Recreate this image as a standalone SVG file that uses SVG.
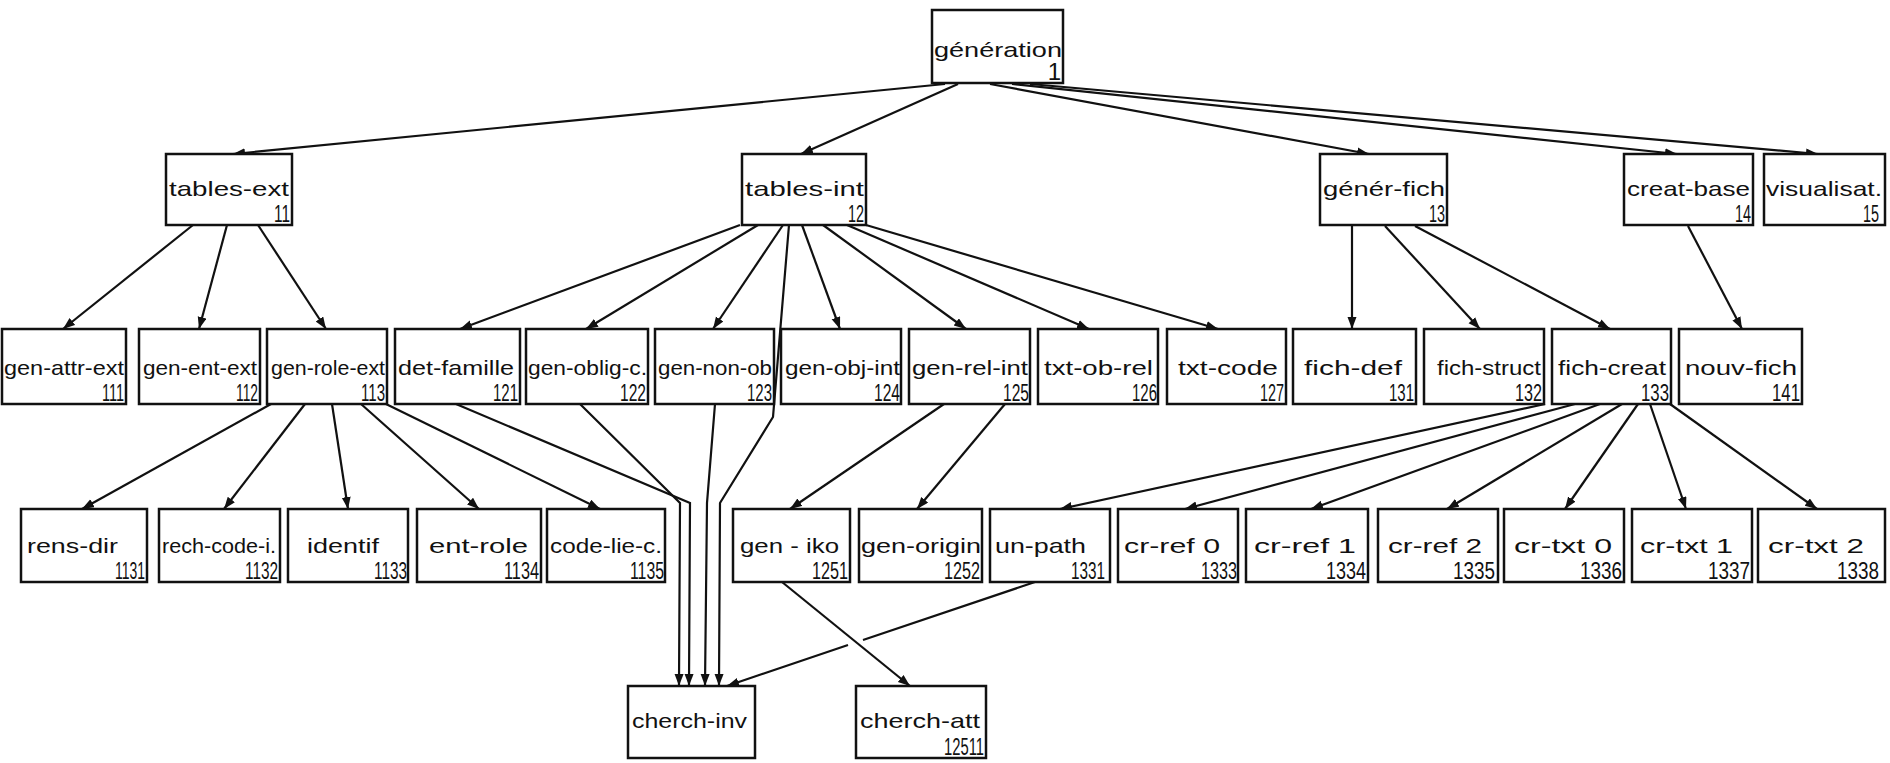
<svg xmlns="http://www.w3.org/2000/svg" width="1890" height="763" viewBox="0 0 1890 763">
<style>
.box{fill:#fff;stroke:#111;stroke-width:2.5}
.lbl{font-family:"Liberation Sans",Arial,sans-serif;font-size:21px;fill:#111}
.num{font-family:"Liberation Sans",Arial,sans-serif;font-size:24px;fill:#111;text-anchor:end}
.edge{fill:none;stroke:#111;stroke-width:2.2;marker-end:url(#ah)}
</style>
<defs>
<marker id="ah" markerUnits="userSpaceOnUse" markerWidth="13" markerHeight="10" refX="12" refY="4.5" orient="auto">
<path d="M0,0 L12,4.5 L0,9 z" fill="#111"/>
</marker>
</defs>
<rect width="1890" height="763" fill="#fff"/>
<g id="connectors">
<path class="edge" d="M945 84 L233 154"/>
<path class="edge" d="M958 84 L801 154"/>
<path class="edge" d="M990 84 L1369 154"/>
<path class="edge" d="M1012 84 L1677 154"/>
<path class="edge" d="M1030 84 L1818 154"/>
<path class="edge" d="M193 225 L63 329"/>
<path class="edge" d="M227 225 L199 329"/>
<path class="edge" d="M258 225 L326 329"/>
<path class="edge" d="M740 225 L460 329"/>
<path class="edge" d="M758 225 L586 329"/>
<path class="edge" d="M783 225 L713 329"/>
<path class="edge" d="M789 225 L773 417 L720 503 L719 686"/>
<path class="edge" d="M802 225 L840 329"/>
<path class="edge" d="M823 225 L966 329"/>
<path class="edge" d="M847 225 L1089 329"/>
<path class="edge" d="M866 225 L1218 329"/>
<path class="edge" d="M1352 226 L1352 329"/>
<path class="edge" d="M1385 226 L1480 329"/>
<path class="edge" d="M1415 226 L1610 329"/>
<path class="edge" d="M1688 226 L1742 329"/>
<path class="edge" d="M271 404 L82 509"/>
<path class="edge" d="M305 404 L224 509"/>
<path class="edge" d="M332 404 L348 509"/>
<path class="edge" d="M361 404 L479 509"/>
<path class="edge" d="M386 404 L600 509"/>
<path class="edge" d="M456 404 L690 503 L689 686"/>
<path class="edge" d="M580 404 L680 503 L679 686"/>
<path class="edge" d="M715 404 L707 503 L705 686"/>
<path class="edge" d="M944 404 L790 509"/>
<path class="edge" d="M1005 404 L917 509"/>
<path class="edge" d="M1545 404 L1060 509"/>
<path class="edge" d="M1575 404 L1185 509"/>
<path class="edge" d="M1600 404 L1311 509"/>
<path class="edge" d="M1622 404 L1447 509"/>
<path class="edge" d="M1638 404 L1565 509"/>
<path class="edge" d="M1650 404 L1686 509"/>
<path class="edge" d="M1670 404 L1817 509"/>
<path class="edge" d="M782 582 L910 686"/>
<path class="edge" d="M1035 582 L863 640 M848 645 L727 686"/>
</g>
<g id="n1"><rect class="box" x="932" y="10" width="131" height="73"/><text class="lbl" x="934" y="57" textLength="128" lengthAdjust="spacingAndGlyphs">génération</text><text class="num" x="1061" y="80">1</text></g>
<g id="n11"><rect class="box" x="166" y="154" width="126" height="71"/><text class="lbl" x="169" y="196" textLength="120" lengthAdjust="spacingAndGlyphs">tables-ext</text><text class="num" x="290" y="222" textLength="16" lengthAdjust="spacingAndGlyphs">11</text></g>
<g id="n12"><rect class="box" x="742" y="154" width="124" height="71"/><text class="lbl" x="745" y="196" textLength="119" lengthAdjust="spacingAndGlyphs">tables-int</text><text class="num" x="864" y="222" textLength="16" lengthAdjust="spacingAndGlyphs">12</text></g>
<g id="n13"><rect class="box" x="1320" y="154" width="127" height="71"/><text class="lbl" x="1323" y="196" textLength="122" lengthAdjust="spacingAndGlyphs">génér-fich</text><text class="num" x="1445" y="222" textLength="16" lengthAdjust="spacingAndGlyphs">13</text></g>
<g id="n14"><rect class="box" x="1624" y="154" width="129" height="71"/><text class="lbl" x="1627" y="196" textLength="123" lengthAdjust="spacingAndGlyphs">creat-base</text><text class="num" x="1751" y="222" textLength="16" lengthAdjust="spacingAndGlyphs">14</text></g>
<g id="n15"><rect class="box" x="1764" y="154" width="121" height="71"/><text class="lbl" x="1766" y="196" textLength="116" lengthAdjust="spacingAndGlyphs">visualisat.</text><text class="num" x="1879" y="222" textLength="16" lengthAdjust="spacingAndGlyphs">15</text></g>
<g id="n111"><rect class="box" x="2" y="329" width="124" height="75"/><text class="lbl" x="4" y="375" textLength="120" lengthAdjust="spacingAndGlyphs">gen-attr-ext</text><text class="num" x="124" y="401" textLength="22" lengthAdjust="spacingAndGlyphs">111</text></g>
<g id="n112"><rect class="box" x="139" y="329" width="121" height="75"/><text class="lbl" x="143" y="375" textLength="114" lengthAdjust="spacingAndGlyphs">gen-ent-ext</text><text class="num" x="258" y="401" textLength="22" lengthAdjust="spacingAndGlyphs">112</text></g>
<g id="n113"><rect class="box" x="267" y="329" width="120" height="75"/><text class="lbl" x="271" y="375" textLength="114" lengthAdjust="spacingAndGlyphs">gen-role-ext</text><text class="num" x="385" y="401" textLength="24" lengthAdjust="spacingAndGlyphs">113</text></g>
<g id="n121"><rect class="box" x="395" y="329" width="125" height="75"/><text class="lbl" x="398" y="375" textLength="116" lengthAdjust="spacingAndGlyphs">det-famille</text><text class="num" x="518" y="401" textLength="25" lengthAdjust="spacingAndGlyphs">121</text></g>
<g id="n122"><rect class="box" x="526" y="329" width="122" height="75"/><text class="lbl" x="528" y="375" textLength="119" lengthAdjust="spacingAndGlyphs">gen-oblig-c.</text><text class="num" x="646" y="401" textLength="26" lengthAdjust="spacingAndGlyphs">122</text></g>
<g id="n123"><rect class="box" x="655" y="329" width="119" height="75"/><text class="lbl" x="658" y="375" textLength="114" lengthAdjust="spacingAndGlyphs">gen-non-ob</text><text class="num" x="772" y="401" textLength="25" lengthAdjust="spacingAndGlyphs">123</text></g>
<g id="n124"><rect class="box" x="781" y="329" width="120" height="75"/><text class="lbl" x="785" y="375" textLength="115" lengthAdjust="spacingAndGlyphs">gen-obj-int</text><text class="num" x="900" y="401" textLength="26" lengthAdjust="spacingAndGlyphs">124</text></g>
<g id="n125"><rect class="box" x="909" y="329" width="121" height="75"/><text class="lbl" x="912" y="375" textLength="116" lengthAdjust="spacingAndGlyphs">gen-rel-int</text><text class="num" x="1029" y="401" textLength="26" lengthAdjust="spacingAndGlyphs">125</text></g>
<g id="n126"><rect class="box" x="1038" y="329" width="120" height="75"/><text class="lbl" x="1044" y="375" textLength="109" lengthAdjust="spacingAndGlyphs">txt-ob-rel</text><text class="num" x="1157" y="401" textLength="25" lengthAdjust="spacingAndGlyphs">126</text></g>
<g id="n127"><rect class="box" x="1167" y="329" width="119" height="75"/><text class="lbl" x="1178" y="375" textLength="100" lengthAdjust="spacingAndGlyphs">txt-code</text><text class="num" x="1284" y="401" textLength="24" lengthAdjust="spacingAndGlyphs">127</text></g>
<g id="n131"><rect class="box" x="1293" y="329" width="123" height="75"/><text class="lbl" x="1304" y="375" textLength="98" lengthAdjust="spacingAndGlyphs">fich-def</text><text class="num" x="1414" y="401" textLength="25" lengthAdjust="spacingAndGlyphs">131</text></g>
<g id="n132"><rect class="box" x="1424" y="329" width="120" height="75"/><text class="lbl" x="1437" y="375" textLength="104" lengthAdjust="spacingAndGlyphs">fich-struct</text><text class="num" x="1542" y="401" textLength="27" lengthAdjust="spacingAndGlyphs">132</text></g>
<g id="n133"><rect class="box" x="1552" y="329" width="119" height="75"/><text class="lbl" x="1558" y="375" textLength="108" lengthAdjust="spacingAndGlyphs">fich-creat</text><text class="num" x="1669" y="401" textLength="28" lengthAdjust="spacingAndGlyphs">133</text></g>
<g id="n141"><rect class="box" x="1679" y="329" width="123" height="75"/><text class="lbl" x="1685" y="375" textLength="112" lengthAdjust="spacingAndGlyphs">nouv-fich</text><text class="num" x="1800" y="401" textLength="28" lengthAdjust="spacingAndGlyphs">141</text></g>
<g id="n1131"><rect class="box" x="21" y="509" width="126" height="73"/><text class="lbl" x="27" y="553" textLength="91" lengthAdjust="spacingAndGlyphs">rens-dir</text><text class="num" x="145" y="579" textLength="30" lengthAdjust="spacingAndGlyphs">1131</text></g>
<g id="n1132"><rect class="box" x="159" y="509" width="121" height="73"/><text class="lbl" x="162" y="553" textLength="114" lengthAdjust="spacingAndGlyphs">rech-code-i.</text><text class="num" x="278" y="579" textLength="33" lengthAdjust="spacingAndGlyphs">1132</text></g>
<g id="n1133"><rect class="box" x="288" y="509" width="120" height="73"/><text class="lbl" x="307" y="553" textLength="72" lengthAdjust="spacingAndGlyphs">identif</text><text class="num" x="407" y="579" textLength="33" lengthAdjust="spacingAndGlyphs">1133</text></g>
<g id="n1134"><rect class="box" x="417" y="509" width="124" height="73"/><text class="lbl" x="429" y="553" textLength="99" lengthAdjust="spacingAndGlyphs">ent-role</text><text class="num" x="539" y="579" textLength="35" lengthAdjust="spacingAndGlyphs">1134</text></g>
<g id="n1135"><rect class="box" x="547" y="509" width="118" height="73"/><text class="lbl" x="550" y="553" textLength="112" lengthAdjust="spacingAndGlyphs">code-lie-c.</text><text class="num" x="664" y="579" textLength="34" lengthAdjust="spacingAndGlyphs">1135</text></g>
<g id="n1251"><rect class="box" x="733" y="509" width="117" height="73"/><text class="lbl" x="740" y="553" textLength="99" lengthAdjust="spacingAndGlyphs">gen - iko</text><text class="num" x="848" y="579" textLength="36" lengthAdjust="spacingAndGlyphs">1251</text></g>
<g id="n1252"><rect class="box" x="859" y="509" width="123" height="73"/><text class="lbl" x="861" y="553" textLength="120" lengthAdjust="spacingAndGlyphs">gen-origin</text><text class="num" x="980" y="579" textLength="36" lengthAdjust="spacingAndGlyphs">1252</text></g>
<g id="n1331"><rect class="box" x="990" y="509" width="120" height="73"/><text class="lbl" x="995" y="553" textLength="91" lengthAdjust="spacingAndGlyphs">un-path</text><text class="num" x="1105" y="579" textLength="34" lengthAdjust="spacingAndGlyphs">1331</text></g>
<g id="n1333"><rect class="box" x="1118" y="509" width="120" height="73"/><text class="lbl" x="1124" y="553" textLength="96" lengthAdjust="spacingAndGlyphs">cr-ref 0</text><text class="num" x="1237" y="579" textLength="36" lengthAdjust="spacingAndGlyphs">1333</text></g>
<g id="n1334"><rect class="box" x="1246" y="509" width="122" height="73"/><text class="lbl" x="1254" y="553" textLength="102" lengthAdjust="spacingAndGlyphs">cr-ref 1</text><text class="num" x="1366" y="579" textLength="40" lengthAdjust="spacingAndGlyphs">1334</text></g>
<g id="n1335"><rect class="box" x="1378" y="509" width="120" height="73"/><text class="lbl" x="1388" y="553" textLength="94" lengthAdjust="spacingAndGlyphs">cr-ref 2</text><text class="num" x="1495" y="579" textLength="42" lengthAdjust="spacingAndGlyphs">1335</text></g>
<g id="n1336"><rect class="box" x="1504" y="509" width="120" height="73"/><text class="lbl" x="1514" y="553" textLength="98" lengthAdjust="spacingAndGlyphs">cr-txt 0</text><text class="num" x="1622" y="579" textLength="42" lengthAdjust="spacingAndGlyphs">1336</text></g>
<g id="n1337"><rect class="box" x="1632" y="509" width="120" height="73"/><text class="lbl" x="1640" y="553" textLength="93" lengthAdjust="spacingAndGlyphs">cr-txt 1</text><text class="num" x="1750" y="579" textLength="42" lengthAdjust="spacingAndGlyphs">1337</text></g>
<g id="n1338"><rect class="box" x="1758" y="509" width="127" height="73"/><text class="lbl" x="1768" y="553" textLength="96" lengthAdjust="spacingAndGlyphs">cr-txt 2</text><text class="num" x="1879" y="579" textLength="42" lengthAdjust="spacingAndGlyphs">1338</text></g>
<g id="cherch-inv"><rect class="box" x="628" y="686" width="127" height="72"/><text class="lbl" x="632" y="728" textLength="115" lengthAdjust="spacingAndGlyphs">cherch-inv</text></g>
<g id="n12511"><rect class="box" x="856" y="686" width="130" height="72"/><text class="lbl" x="860" y="728" textLength="120" lengthAdjust="spacingAndGlyphs">cherch-att</text><text class="num" x="984" y="755" textLength="40" lengthAdjust="spacingAndGlyphs">12511</text></g>
</svg>
